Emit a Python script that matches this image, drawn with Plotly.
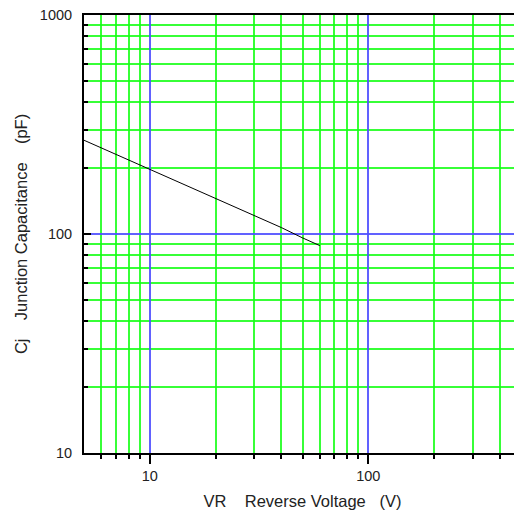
import plotly.graph_objects as go

# Data
vr = [5, 10, 20, 30, 40, 50, 60]
cj = [268, 197, 145, 121, 107, 96, 88.5]

x_major = [10, 100]
x_minor = [6, 7, 8, 9, 20, 30, 40, 50, 60, 70, 80, 90, 200, 300, 400]
y_major = [10, 100, 1000]
y_minor = [20, 30, 40, 50, 60, 70, 80, 90, 200, 300, 400, 500, 600, 700, 800, 900]
x_tick_labels = ["10", "100"]
y_tick_labels = ["10", "100", "1000"]

GREEN = "rgba(20,255,20,0.85)"
BLUE = "rgba(80,80,255,0.9)"
FONT = "Liberation Sans, Arial, sans-serif"

fig = go.Figure()
fig.add_trace(go.Scatter(x=vr, y=cj, mode="lines",
                         line=dict(color="black", width=1), showlegend=False,
                         hoverinfo="skip"))

# The page body adds an 8px margin, so the figure is sized/offset to compensate.
fig.update_layout(
    width=514, height=502,
    margin=dict(l=76, r=1, t=7, b=57),
    paper_bgcolor="white", plot_bgcolor="white",
    font=dict(family=FONT, size=14.5, color="#222"),
    xaxis=dict(
        type="log", range=[0.69897, 2.69897], automargin=False,
        tickmode="array", tickvals=x_major, ticktext=x_tick_labels,
        ticklabeloverflow="allow",
        showgrid=True, gridcolor=BLUE, gridwidth=2,
        ticks="outside", ticklen=9, tickwidth=1.5, tickcolor="black",
        minor=dict(tickmode="array", tickvals=x_minor, showgrid=True,
                   gridcolor=GREEN, gridwidth=2, ticks="outside",
                   ticklen=4, tickwidth=1.5, tickcolor="black"),
        showline=True, linecolor="black", linewidth=2, mirror=True,
        zeroline=False,
        title=dict(text="VR    Reverse Voltage   (V)", font=dict(size=16.5, family=FONT), standoff=12),
    ),
    yaxis=dict(
        type="log", range=[1, 3], automargin=False,
        tickmode="array", tickvals=y_major, ticktext=y_tick_labels,
        ticklabeloverflow="allow",
        showgrid=True, gridcolor=BLUE, gridwidth=2,
        ticks="inside", ticklen=7, tickwidth=2, tickcolor="black",
        ticklabelstandoff=7,
        minor=dict(tickmode="array", tickvals=y_minor, showgrid=True,
                   gridcolor=GREEN, gridwidth=2, ticks="inside",
                   ticklen=4, tickwidth=2, tickcolor="black"),
        showline=True, linecolor="black", linewidth=2,
        zeroline=False,
        title=dict(text="Cj    Junction Capacitance    (pF)", font=dict(size=16.5, family=FONT), standoff=8),
    ),
)

fig.add_shape(type="line", xref="paper", yref="paper", x0=1, x1=1, y0=0, y1=1,
              line=dict(color="#bbbbbb", width=1))

fig.write_html("out.html")
